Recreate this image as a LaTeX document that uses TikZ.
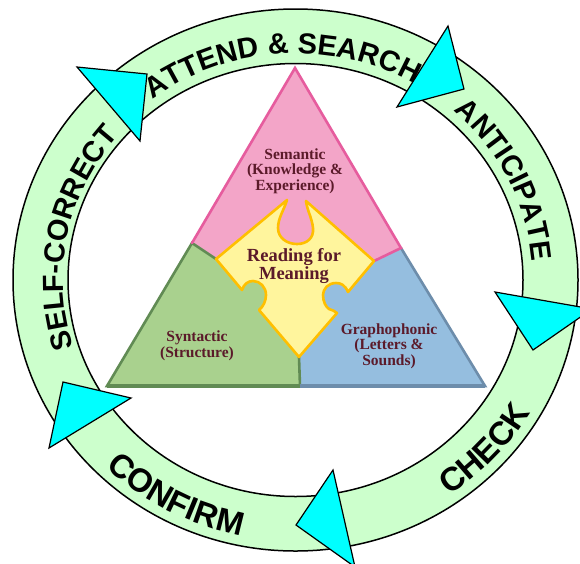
\documentclass[tikz,border=0pt]{standalone}
\usepackage{fontspec}
\setmainfont{Liberation Serif}
\setsansfont{Liberation Sans}
\usetikzlibrary{decorations.text}
\definecolor{ringfill}{HTML}{CCFFCC}
\definecolor{arrowfill}{HTML}{00FFFF}
\definecolor{pinkfill}{HTML}{F3A5C8}
\definecolor{pinkline}{HTML}{E65C9E}
\definecolor{greenfill}{HTML}{A9D18E}
\definecolor{greenline}{HTML}{618B54}
\definecolor{bluefill}{HTML}{95BEDF}
\definecolor{blueline}{HTML}{6D8DAB}
\definecolor{puzzlefill}{HTML}{FFF59D}
\definecolor{puzzleline}{HTML}{FFBF00}
\definecolor{labeltext}{HTML}{5B1A2A}
\newcommand{\rfont}{\sffamily\bfseries\fontsize{29}{29}\selectfont}
\newcommand{\rbfont}{\sffamily\bfseries\fontsize{33}{33}\selectfont}
\begin{document}
\begin{tikzpicture}[x=1pt,y=-1pt,
  ringband/.style={fill=ringfill,draw=black,line width=1.5pt,even odd rule},
  cyanarrow/.style={fill=arrowfill,draw=black,line width=1.2pt,line join=miter},
  region/.style={line width=2.6pt,line cap=round},
  lbl/.style={align=center,text=labeltext,font=\bfseries\fontsize{15.5}{15.5}\selectfont,inner sep=0pt},
  biglbl/.style={align=center,text=labeltext,font=\bfseries\fontsize{18.5}{18}\selectfont,inner sep=0pt},
  ringlabel/.style={decorate,decoration={text along path,text align=center,text={#1}}}
]
\useasboundingbox (0,0) rectangle (580,563);
\clip (0,0) rectangle (580,563);
\fill[white] (0,0) rectangle (580,563);

% ring
\coordinate (O) at (295.5,280);
\path[ringband] (O) ellipse [x radius=282.5, y radius=271]
                (O) ellipse [x radius=227.5, y radius=216.5];

% ring labels
\path[ringlabel={|\rfont|ATTEND {\&} SEARCH}]
  ([shift={(295.5,280)}]-127.5:237.5 and 226.5) arc[start angle=-127.5, end angle=-59.5, x radius=237.5, y radius=226.5];
\path[ringlabel={|\rfont|ANTICIPATE}]
  ([shift={(295.5,280)}]-50:237.5 and 226.5) arc[start angle=-50, end angle=-3, x radius=237.5, y radius=226.5];
\path[ringlabel={|\rfont|SELF-CORRECT}]
  ([shift={(295.5,280)}]161:232.5 and 221.5) arc[start angle=161, end angle=222, x radius=232.5, y radius=221.5];
\path[ringlabel={|\rbfont|CHECK}]
  ([shift={(295.5,280)}]60:272.5 and 261) arc[start angle=60, end angle=26, x radius=272.5, y radius=261];
\path[ringlabel={|\rbfont|CONFIRM}]
  ([shift={(295.5,280)}]140:272.5 and 261) arc[start angle=140, end angle=96, x radius=272.5, y radius=261];

% arrowheads
\coordinate (a1) at (77,67);   \coordinate (a2) at (147,74);  \coordinate (a3) at (140,141);
\coordinate (b1) at (448,26);  \coordinate (b2) at (464,89);  \coordinate (b3) at (397,107);
\coordinate (c1) at (495,292); \coordinate (c2) at (592,309); \coordinate (c3) at (533,350);
\coordinate (d1) at (333,470); \coordinate (d2) at (296,525); \coordinate (d3) at (355,567);
\coordinate (e1) at (63,382);  \coordinate (e2) at (131,398); \coordinate (e3) at (49,448);
\draw[cyanarrow] (a1) -- (a2) -- (a3) -- cycle;
\draw[cyanarrow] (b1) -- (b2) -- (b3) -- cycle;
\draw[cyanarrow] (c1) -- (c2) -- (c3) -- cycle;
\draw[cyanarrow] (d1) -- (d2) -- (d3) -- cycle;
\draw[cyanarrow] (e1) -- (e2) -- (e3) -- cycle;

% triangle
\coordinate (A) at (295,68);
\coordinate (BL) at (107,386);
\coordinate (BR) at (485,386);
\coordinate (PL) at (192,243);
\coordinate (PR) at (401,248);
\coordinate (L) at (216,259);
\coordinate (R) at (374,261);
\coordinate (Bot) at (299,357);
\coordinate (BM) at (300,386);
\coordinate (C) at (297,280);
\fill[pinkfill] (A) -- (PR) -- (R) -- (C) -- (L) -- (PL) -- cycle;
\fill[greenfill] (PL) -- (L) -- (C) -- (Bot) -- (BM) -- (BL) -- cycle;
\fill[bluefill] (PR) -- (R) -- (C) -- (Bot) -- (BM) -- (BR) -- cycle;
\draw[region,greenline] (L) -- (PL) -- (BL) -- (BM) -- (Bot);
\draw[region,blueline] (PR) -- (BR) -- (BM);
\draw[region,pinkline] (PL) -- (A) -- (PR) -- (R);
\draw[greenline,line width=3.5pt] (BL) -- (BM);
\draw[blueline,line width=3.5pt] (BM) -- (BR);

% puzzle piece
\coordinate (TL) at (287,200);
\coordinate (TR) at (306,201);
\coordinate (bIn) at (348,292);
\coordinate (bOut) at (337,313);
\coordinate (gIn) at (259,310);
\coordinate (gOut) at (242,290);
\draw[fill=puzzlefill,draw=puzzleline,line width=2.6pt,line join=round]
  (L) -- (TL)
  .. controls (284,210) and (278,218) .. (278,228)
  .. controls (278,238) and (287,244) .. (297,244)
  .. controls (307,244) and (314,238) .. (313,228)
  .. controls (312,218) and (307,210) .. (TR)
  -- (R) -- (bIn)
  .. controls (345,285) and (341,283) .. (336,283)
  .. controls (328,283) and (323,289) .. (323,295)
  .. controls (323,302) and (326,307) .. (329,309)
  .. controls (332,310) and (335,311) .. (bOut)
  -- (Bot) -- (gIn)
  .. controls (263,307) and (266,301) .. (266,295)
  .. controls (266,287) and (260,281) .. (253,281)
  .. controls (248,281) and (244,284) .. (gOut)
  -- cycle;

% labels
\node[lbl] (sem) at (295,171) {Semantic\\(Knowledge \&\\Experience)};
\node[biglbl] (mean) at (294,266) {Reading for\\Meaning};
\node[lbl] (syn) at (197,346) {Syntactic\\(Structure)};
\node[lbl] (gra) at (389,346) {Graphophonic\\(Letters \&\\Sounds)};
\end{tikzpicture}
\end{document}
